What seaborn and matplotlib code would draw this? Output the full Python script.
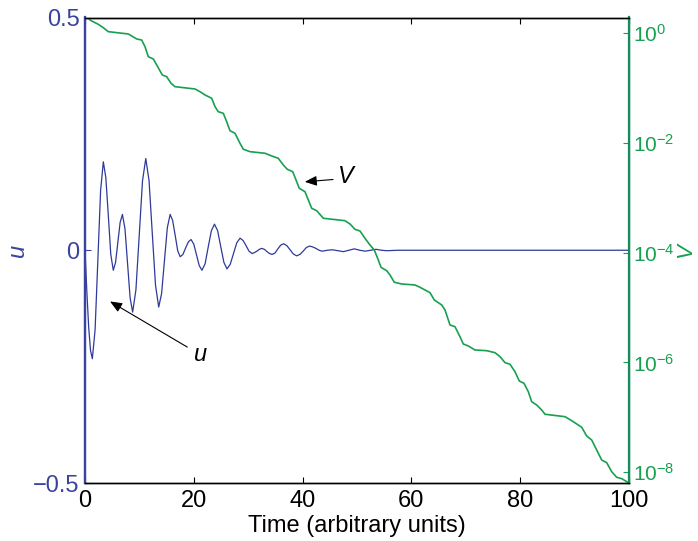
import numpy as np
import pandas as pd
import matplotlib
matplotlib.use("Agg")
import matplotlib.pyplot as plt
import seaborn as sns

# ---- data ----
t_u = [0, 0.34, 0.675, 1.01, 1.35, 1.855, 2.36, 2.865, 3.37, 3.83, 4.29, 4.74, 5.2, 5.62, 6.04, 6.46,
       6.88, 7.35, 7.82, 8.29, 8.76, 9.36, 9.97, 10.57, 11.17, 11.77, 12.36, 12.96, 13.55, 14.08, 14.6,
       15.13, 15.65, 16.11, 16.58, 17.04, 17.5, 18.0, 18.5, 19.0, 19.5, 20.0, 20.5, 21.0, 21.5, 22.08,
       22.65, 23.23, 23.8, 24.38, 24.95, 25.53, 26.1, 26.7, 27.3, 27.9, 28.5, 29.05, 29.6, 30.15, 30.7,
       31.15, 31.6, 32.05, 32.5, 32.98, 33.45, 33.93, 34.4, 34.93, 35.45, 35.98, 36.5, 37.1, 37.7, 38.3,
       38.9, 39.5, 40.1, 40.7, 41.3, 41.88, 42.45, 43.03, 43.6, 44.55, 45.5, 46.5, 47.5, 48.5, 49.5,
       50.5, 51.5, 52.5, 53.5, 54.5, 55.5, 57.5, 60, 100]
u = [0, -0.089, -0.165, -0.215, -0.233, -0.171, -0.022, 0.128, 0.190, 0.156, 0.074, -0.009, -0.043,
     -0.026, 0.017, 0.060, 0.077, 0.046, -0.028, -0.102, -0.133, -0.085, 0.032, 0.149, 0.197, 0.150,
     0.038, -0.075, -0.122, -0.093, -0.023, 0.048, 0.077, 0.064, 0.032, -0.001, -0.014, -0.009, 0.005,
     0.018, 0.023, 0.013, -0.010, -0.033, -0.043, -0.029, 0.007, 0.042, 0.056, 0.042, 0.008, -0.026,
     -0.040, -0.030, -0.007, 0.016, 0.026, 0.021, 0.010, -0.002, -0.007, -0.005, -0.002, 0.002, 0.004,
     0.002, -0.003, -0.007, -0.009, -0.006, 0.003, 0.011, 0.014, 0.010, 0.001, -0.008, -0.012, -0.009,
     -0.002, 0.006, 0.009, 0.007, 0.004, 0.000, -0.002, 0.000, 0.001, -0.001, -0.003, 0.000, 0.003,
     0.000, -0.002, 0.000, 0.002, 0.000, -0.001, 0.000, 0.000, 0.000]

t_V = [0, 0.31, 1.23, 2.44, 3.36, 4.28, 7.96, 9.50, 10.42, 11.03,
       11.64, 12.56, 13.36, 14.21, 15.02, 15.81, 16.54, 20.22, 21.14, 22.06,
       23.29, 23.90, 24.50, 25.42, 26.05, 26.65, 27.57, 28.49, 29.10, 30.33,
       33.09, 34.32, 35.53, 36.45, 37.19, 38.18, 38.79, 39.39, 40.44, 41.05,
       41.67, 42.59, 43.81, 47.79, 48.71, 49.63, 50.55, 51.47, 52.39, 53.18,
       53.92, 54.41, 55.46, 56.07, 56.86, 58.22, 60.66, 61.58, 62.50, 63.42,
       64.21, 65.57, 66.18, 67.10, 68.01, 68.93, 69.54, 70.46, 71.69, 73.84,
       75.37, 76.29, 77.21, 78.13, 79.04, 79.83, 80.70, 81.49, 82.11, 83.03,
       83.95, 84.56, 88.24, 89.47, 90.39, 91.31, 92.22, 93.14, 94.06, 94.98,
       95.90, 96.82, 97.74, 98.66, 100]
# exponents (log10 V)
log10_V = [0.282, 0.279, 0.219, 0.158, 0.097, 0.024, -0.018, -0.109, -0.128, -0.250,
           -0.432, -0.474, -0.614, -0.765, -0.796, -0.916, -0.978, -1.020, -1.069, -1.129,
           -1.189, -1.342, -1.434, -1.463, -1.616, -1.780, -1.827, -2.009, -2.118, -2.162,
           -2.191, -2.240, -2.282, -2.404, -2.483, -2.526, -2.678, -2.829, -2.891, -3.042,
           -3.193, -3.237, -3.375, -3.419, -3.479, -3.576, -3.607, -3.740, -3.862, -3.953,
           -4.135, -4.268, -4.330, -4.408, -4.541, -4.572, -4.590, -4.632, -4.681, -4.730,
           -4.863, -4.954, -5.046, -5.319, -5.350, -5.532, -5.665, -5.701, -5.774, -5.787,
           -5.823, -5.896, -6.005, -6.035, -6.169, -6.339, -6.381, -6.534, -6.716, -6.776,
           -6.867, -6.945, -6.989, -7.062, -7.122, -7.182, -7.341, -7.413, -7.596, -7.778,
           -7.827, -7.991, -8.093, -8.118, -8.197]
V = [10.0 ** e for e in log10_V]

x_ticks = [0, 20, 40, 60, 80, 100]
u_ticks = [-0.5, 0, 0.5]
V_ticks = [1e0, 1e-2, 1e-4, 1e-6, 1e-8]

# ---- style ----
sns.set_theme(style="white")
plt.rcParams["font.family"] = ["Liberation Sans", "DejaVu Sans"]
plt.rcParams["mathtext.fontset"] = "custom"
plt.rcParams["mathtext.rm"] = "Liberation Sans"
plt.rcParams["mathtext.it"] = "Liberation Sans:italic"
plt.rcParams["axes.unicode_minus"] = True

BLUE = "#3a43a0"
BLUE_LINE = "#2e3a98"
GREEN = "#17a04f"
GREEN_SPINE = "#158a5a"
FS = 17

fig = plt.figure(figsize=(6.98, 5.41), dpi=100)
ax = fig.add_axes([85 / 698, 1 - 483 / 541, (629 - 85) / 698, (483 - 17.5) / 541])
ax2 = ax.twinx()

df_u = pd.DataFrame({"t": t_u, "u": u})
df_V = pd.DataFrame({"t": t_V, "V": V})

sns.lineplot(data=df_u, x="t", y="u", ax=ax, color=BLUE_LINE, lw=0.9, estimator=None, sort=False,
             solid_joinstyle="round")
ax2.set_yscale("log")
sns.lineplot(data=df_V, x="t", y="V", ax=ax2, color=GREEN, lw=1.2, estimator=None, sort=False,
             solid_joinstyle="round")

ax.set_xlim(0, 100)
ax.set_ylim(-0.5, 0.5)
ax2.set_ylim(min(V), max(V))

ax.set_xticks(x_ticks)
ax.set_xticklabels([str(v) for v in x_ticks], fontsize=FS, color="black")
ax.set_yticks(u_ticks)
ax.set_yticklabels(["\u22120.5", "0", "0.5"], fontsize=FS, color=BLUE)
ax2.set_yticks(V_ticks)
ax2.yaxis.set_minor_locator(matplotlib.ticker.NullLocator())
ax2.set_yticklabels([r"$10^{0}$", r"$10^{-2}$", r"$10^{-4}$", r"$10^{-6}$", r"$10^{-8}$"],
                    fontsize=15, color=GREEN)

ax.tick_params(axis="x", direction="in", top=True, bottom=True, length=4, width=0.8,
               color="black", pad=5)
ax.tick_params(axis="y", direction="in", left=True, length=4, width=0.8, color=BLUE, pad=4)
ax2.tick_params(axis="y", direction="in", right=True, length=4, width=0.8, color=GREEN, pad=3)

ax.set_xlabel("Time (arbitrary units)", fontsize=FS, color="black", labelpad=2)
ax.set_ylabel("u", fontsize=FS, color=BLUE, style="italic", labelpad=3)
ax2.set_ylabel("V", fontsize=16, color=GREEN, style="italic")
ax2.yaxis.set_label_coords((675 - 85) / 544, 0.5)

for a in (ax, ax2):
    for s in a.spines.values():
        s.set_visible(True)
        s.set_linewidth(1.0)
    a.spines["top"].set_color("black")
    a.spines["bottom"].set_color("black")
    a.spines["left"].set_color(BLUE)
    a.spines["right"].set_color(GREEN_SPINE)
ax.spines["left"].set_linewidth(1.6)
ax2.spines["left"].set_linewidth(1.6)
ax2.spines["right"].set_linewidth(1.6)
ax.grid(False)
ax2.grid(False)

arrow = dict(arrowstyle="-|>,head_length=0.6,head_width=0.25", color="black", lw=0.8,
             mutation_scale=12, shrinkA=0, shrinkB=0)
ax.annotate("", xy=(4.6, -0.110), xytext=(18.8, -0.208), arrowprops=arrow)
ax.text(21.3, -0.224, "u", fontsize=FS, style="italic", ha="center", va="center", color="black")
ax.annotate("", xy=(40.4, 0.147), xytext=(45.6, 0.152), arrowprops=arrow)
ax.text(47.9, 0.159, "V", fontsize=FS, style="italic", ha="center", va="center", color="black")

fig.savefig("out.png", dpi=100)
